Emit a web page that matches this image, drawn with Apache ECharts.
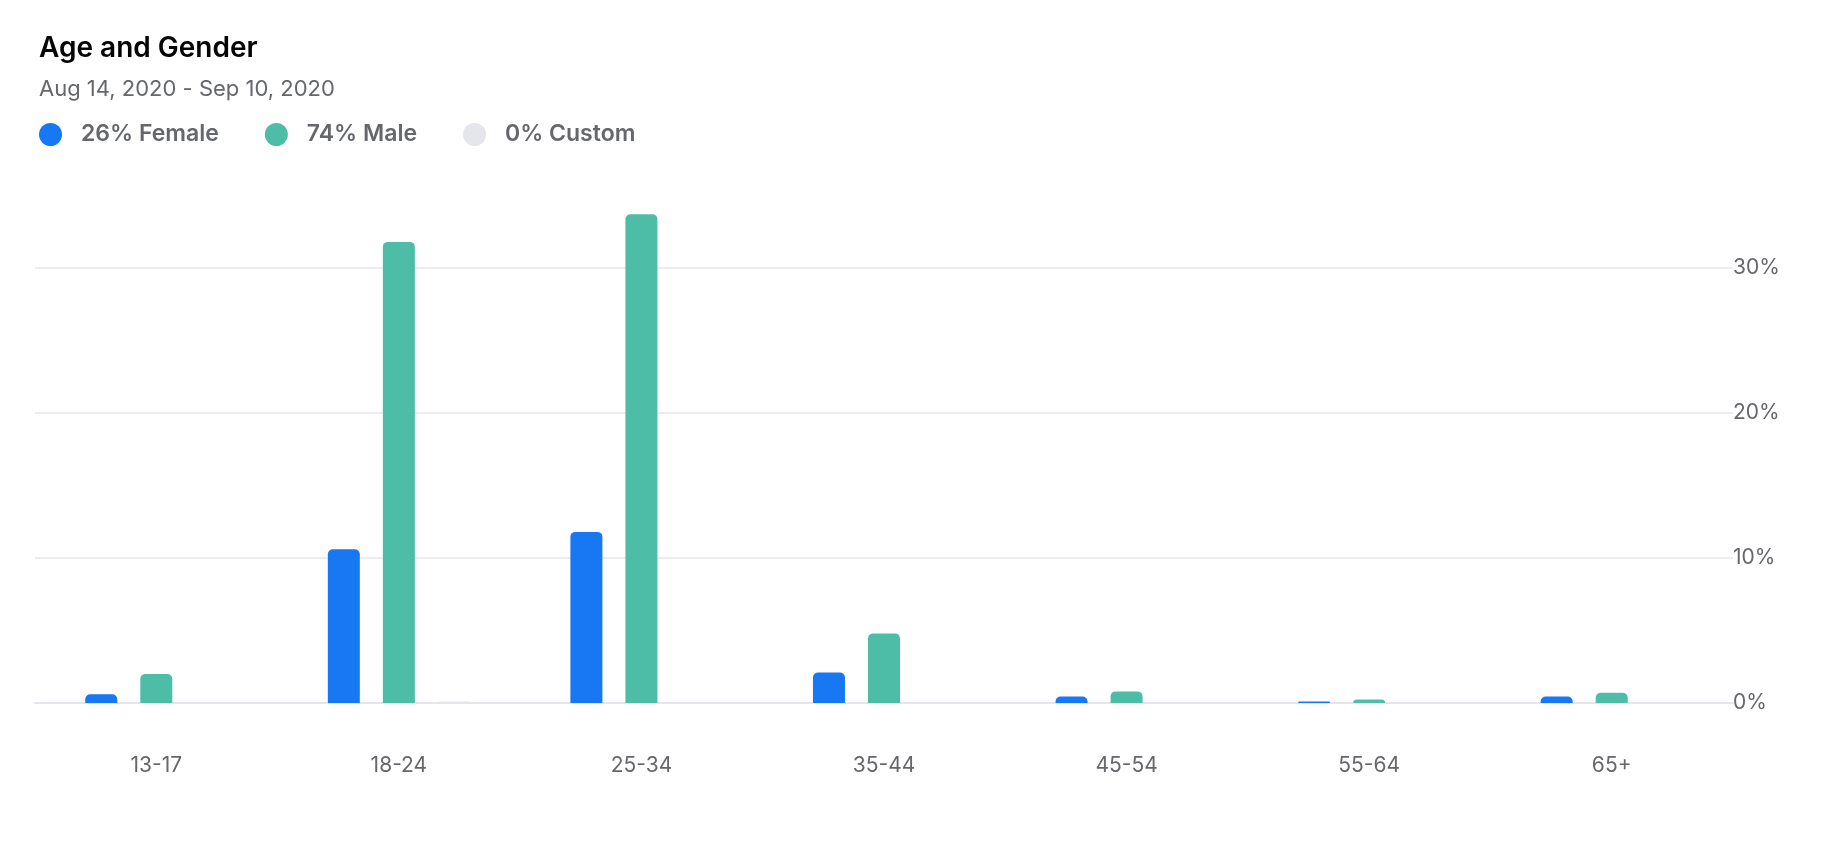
<!DOCTYPE html>
<html>
<head>
<meta charset="utf-8">
<script src="https://cdn.jsdelivr.net/npm/echarts@6/dist/echarts.min.js"></script>
<style>
body { margin: 0; background: #fff; font-family: Inter, "Noto Sans", Arial, sans-serif; }
#main { width: 1822px; height: 844px; }
</style>
</head>
<body>
<div id="main"></div>
<script>
var ageGroups = ['13-17', '18-24', '25-34', '35-44', '45-54', '55-64', '65+'];
var femaleShare = [0.6, 10.6, 11.8, 2.1, 0.45, 0.1, 0.45];
var maleShare = [2.0, 31.8, 33.7, 4.8, 0.8, 0.25, 0.7];
var customShare = [0, 0.1, 0.05, 0, 0, 0, 0];
var legendNames = ['26% Female', '74% Male', '0% Custom'];
var yTicks = [0, 10, 20, 30];

var chart = echarts.init(document.getElementById('main'));
var grey = '#65676b';

function barSeries(name, data, color) {
    return {
        name: name,
        type: 'bar',
        data: data,
        barWidth: 32,
        barGap: '72%',
        clip: false,
        itemStyle: { color: color, borderRadius: [5, 5, 0, 0] }
    };
}

chart.setOption({
    textStyle: { fontFamily: 'Inter, "Noto Sans", Arial, sans-serif' },
    title: [
        { text: 'Age and Gender', left: 34, top: 30,
          textStyle: { fontSize: 28, fontWeight: 600, color: '#050505' } },
        { text: 'Aug 14, 2020 - Sep 10, 2020', left: 34, top: 73,
          textStyle: { fontSize: 22, fontWeight: 400, color: grey } }
    ],
    legend: {
        data: legendNames,
        left: 34,
        top: 118,
        icon: 'circle',
        itemWidth: 23,
        itemHeight: 23,
        itemGap: 46,
        textStyle: { fontSize: 23, fontWeight: 600, color: grey, padding: [0, 0, 0, 14] }
    },
    grid: { left: 35, right: 89, top: 268, bottom: 141 },
    xAxis: {
        type: 'category',
        data: ageGroups,
        axisLine: { show: true, lineStyle: { color: '#e4e6eb', width: 2 } },
        axisTick: { show: false },
        axisLabel: { fontSize: 21, color: grey, margin: 52 }
    },
    yAxis: {
        type: 'value',
        position: 'right',
        min: 0,
        max: 30,
        interval: 10,
        axisLine: { show: false },
        axisTick: { show: false },
        splitLine: { lineStyle: { color: '#e4e6eb', width: 1.5 } },
        axisLabel: {
            fontSize: 21, color: grey, margin: 0, align: 'left',
            formatter: function (v) { return yTicks.indexOf(v) >= 0 ? v + '%' : ''; }
        }
    },
    series: [
        barSeries(legendNames[0], femaleShare, '#1877f2'),
        barSeries(legendNames[1], maleShare, '#4dbda7'),
        barSeries(legendNames[2], customShare, '#e4e6eb')
    ]
});
</script>
</body>
</html>
